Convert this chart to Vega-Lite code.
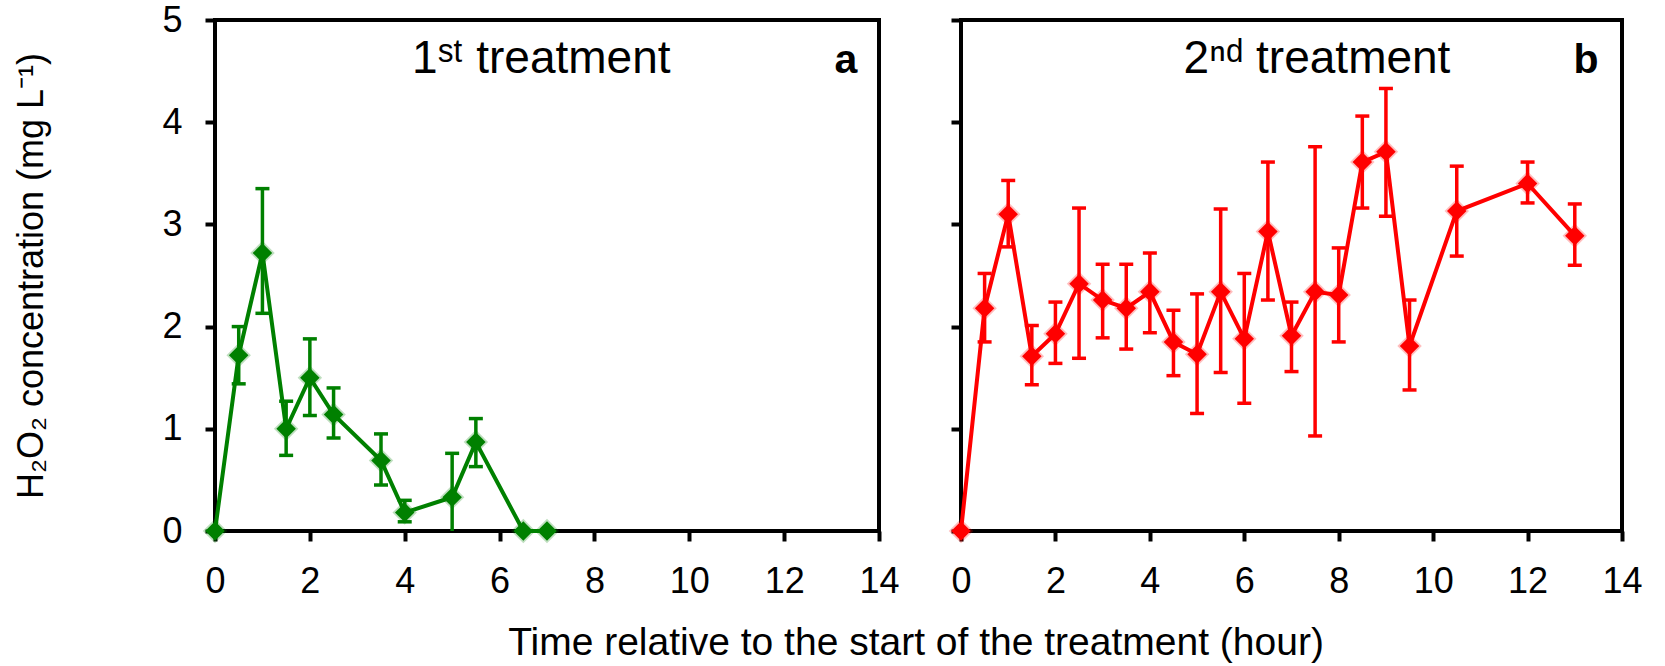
{
  "$schema": "https://vega.github.io/schema/vega-lite/v6.json",
  "background": "white",
  "padding": {"left": 11, "top": 0, "right": 5, "bottom": 0},
  "bounds": "flush",
  "spacing": 82,
  "config": {
    "font": "Liberation Sans",
    "view": {"stroke": "black", "strokeWidth": 4},
    "axis": {
      "grid": false, "domain": false, "tickColor": "black", "tickWidth": 4, "tickSize": 10,
      "labelFont": "Liberation Sans", "labelFontSize": 36, "labelColor": "black", "labelPadding": 23,
      "labelFlush": false, "labelOverlap": false,
      "titleFont": "Liberation Sans", "titleFontSize": 36, "titleFontWeight": "normal", "titleColor": "black"
    }
  },
  "title": {
    "text": "Time relative to the start of the treatment (hour)",
    "orient": "bottom", "anchor": "middle", "fontSize": 39, "fontWeight": "normal",
    "font": "Liberation Sans", "color": "black", "offset": 23, "dx": 88
  },
  "datasets": {
    "green": [
      {"t": 0, "v": 0},
      {"t": 0.5, "v": 1.72, "lo": 1.44, "hi": 2.0},
      {"t": 1, "v": 2.72, "lo": 2.13, "hi": 3.35},
      {"t": 1.5, "v": 1.0, "lo": 0.74, "hi": 1.27},
      {"t": 2, "v": 1.5, "lo": 1.13, "hi": 1.88},
      {"t": 2.5, "v": 1.14, "lo": 0.91, "hi": 1.4},
      {"t": 3.5, "v": 0.69, "lo": 0.45, "hi": 0.95},
      {"t": 4, "v": 0.18, "lo": 0.09, "hi": 0.3},
      {"t": 5, "v": 0.33, "lo": -0.09, "hi": 0.76},
      {"t": 5.5, "v": 0.87, "lo": 0.63, "hi": 1.1},
      {"t": 6.5, "v": 0},
      {"t": 7, "v": 0}
    ],
    "red": [
      {"t": 0, "v": 0},
      {"t": 0.5, "v": 2.18, "lo": 1.85, "hi": 2.52},
      {"t": 1, "v": 3.1, "lo": 2.78, "hi": 3.43},
      {"t": 1.5, "v": 1.71, "lo": 1.43, "hi": 2.01},
      {"t": 2, "v": 1.93, "lo": 1.64, "hi": 2.24},
      {"t": 2.5, "v": 2.42, "lo": 1.69, "hi": 3.16},
      {"t": 3, "v": 2.26, "lo": 1.89, "hi": 2.61},
      {"t": 3.5, "v": 2.18, "lo": 1.78, "hi": 2.61},
      {"t": 4, "v": 2.34, "lo": 1.94, "hi": 2.72},
      {"t": 4.5, "v": 1.85, "lo": 1.52, "hi": 2.16},
      {"t": 5, "v": 1.73, "lo": 1.15, "hi": 2.32},
      {"t": 5.5, "v": 2.34, "lo": 1.55, "hi": 3.15},
      {"t": 6, "v": 1.88, "lo": 1.25, "hi": 2.52},
      {"t": 6.5, "v": 2.93, "lo": 2.26, "hi": 3.61},
      {"t": 7, "v": 1.91, "lo": 1.56, "hi": 2.24},
      {"t": 7.5, "v": 2.34, "lo": 0.93, "hi": 3.76},
      {"t": 8, "v": 2.31, "lo": 1.85, "hi": 2.77},
      {"t": 8.5, "v": 3.61, "lo": 3.16, "hi": 4.06},
      {"t": 9, "v": 3.71, "lo": 3.08, "hi": 4.33},
      {"t": 9.5, "v": 1.81, "lo": 1.38, "hi": 2.26},
      {"t": 10.5, "v": 3.13, "lo": 2.69, "hi": 3.57},
      {"t": 12, "v": 3.4, "lo": 3.21, "hi": 3.61},
      {"t": 13, "v": 2.89, "lo": 2.6, "hi": 3.2}
    ]
  },
  "hconcat": [
    {
      "width": 664, "height": 511,
      "data": {"name": "green"},
      "encoding": {
        "x": {"field": "t", "type": "quantitative", "scale": {"domain": [0, 14], "nice": false},
              "axis": {"values": [0, 2, 4, 6, 8, 10, 12, 14], "title": null}},
        "y": {"field": "v", "type": "quantitative", "scale": {"domain": [0, 5], "nice": false},
              "axis": {"values": [0, 1, 2, 3, 4, 5], "title": "H₂O₂ concentration (mg L⁻¹)", "titlePadding": 111}}
      },
      "layer": [
        {"mark": {"type": "line", "color": "#008000", "strokeWidth": 4}},
        {"transform": [{"filter": "datum.lo != null"}],
         "mark": {"type": "rule", "color": "#008000", "strokeWidth": 3.5, "clip": true},
         "encoding": {"y": {"field": "lo", "type": "quantitative"}, "y2": {"field": "hi"}}},
        {"transform": [{"filter": "datum.lo != null"}],
         "mark": {"type": "tick", "orient": "horizontal", "color": "#008000", "size": 14, "thickness": 3.5, "clip": true, "opacity": 1},
         "encoding": {"y": {"field": "lo", "type": "quantitative"}}},
        {"transform": [{"filter": "datum.lo != null"}],
         "mark": {"type": "tick", "orient": "horizontal", "color": "#008000", "size": 14, "thickness": 3.5, "clip": true, "opacity": 1},
         "encoding": {"y": {"field": "hi", "type": "quantitative"}}},
        {"mark": {"type": "point", "shape": "diamond", "filled": true, "color": "#008000", "size": 600, "opacity": 0.25}},
        {"mark": {"type": "point", "shape": "diamond", "filled": true, "color": "#008000", "size": 380, "opacity": 1}},
        {"data": {"values": [{"label": "1ˢᵗ treatment", "px": 6.88, "py": 4.48}]},
         "mark": {"type": "text", "fontSize": 46, "align": "center", "baseline": "alphabetic", "color": "black"},
         "encoding": {"x": {"field": "px", "type": "quantitative"}, "y": {"field": "py", "type": "quantitative"}, "text": {"field": "label"}}},
        {"data": {"values": [{"label": "a", "px": 13.3, "py": 4.48}]},
         "mark": {"type": "text", "fontSize": 41, "fontWeight": "bold", "align": "center", "baseline": "alphabetic", "color": "black"},
         "encoding": {"x": {"field": "px", "type": "quantitative"}, "y": {"field": "py", "type": "quantitative"}, "text": {"field": "label"}}}
      ]
    },
    {
      "width": 661, "height": 511,
      "data": {"name": "red"},
      "encoding": {
        "x": {"field": "t", "type": "quantitative", "scale": {"domain": [0, 14], "nice": false},
              "axis": {"values": [0, 2, 4, 6, 8, 10, 12, 14], "title": null}},
        "y": {"field": "v", "type": "quantitative", "scale": {"domain": [0, 5], "nice": false},
              "axis": {"values": [0, 1, 2, 3, 4, 5], "title": null, "labels": false}}
      },
      "layer": [
        {"mark": {"type": "line", "color": "#FF0000", "strokeWidth": 4}},
        {"transform": [{"filter": "datum.lo != null"}],
         "mark": {"type": "rule", "color": "#FF0000", "strokeWidth": 3.5, "clip": true},
         "encoding": {"y": {"field": "lo", "type": "quantitative"}, "y2": {"field": "hi"}}},
        {"transform": [{"filter": "datum.lo != null"}],
         "mark": {"type": "tick", "orient": "horizontal", "color": "#FF0000", "size": 14, "thickness": 3.5, "clip": true, "opacity": 1},
         "encoding": {"y": {"field": "lo", "type": "quantitative"}}},
        {"transform": [{"filter": "datum.lo != null"}],
         "mark": {"type": "tick", "orient": "horizontal", "color": "#FF0000", "size": 14, "thickness": 3.5, "clip": true, "opacity": 1},
         "encoding": {"y": {"field": "hi", "type": "quantitative"}}},
        {"mark": {"type": "point", "shape": "diamond", "filled": true, "color": "#FF0000", "size": 600, "opacity": 0.25}},
        {"mark": {"type": "point", "shape": "diamond", "filled": true, "color": "#FF0000", "size": 380, "opacity": 1}},
        {"data": {"values": [{"label": "2ⁿᵈ treatment", "px": 7.54, "py": 4.48}]},
         "mark": {"type": "text", "fontSize": 46, "align": "center", "baseline": "alphabetic", "color": "black"},
         "encoding": {"x": {"field": "px", "type": "quantitative"}, "y": {"field": "py", "type": "quantitative"}, "text": {"field": "label"}}},
        {"data": {"values": [{"label": "b", "px": 13.24, "py": 4.48}]},
         "mark": {"type": "text", "fontSize": 41, "fontWeight": "bold", "align": "center", "baseline": "alphabetic", "color": "black"},
         "encoding": {"x": {"field": "px", "type": "quantitative"}, "y": {"field": "py", "type": "quantitative"}, "text": {"field": "label"}}}
      ]
    }
  ]
}
